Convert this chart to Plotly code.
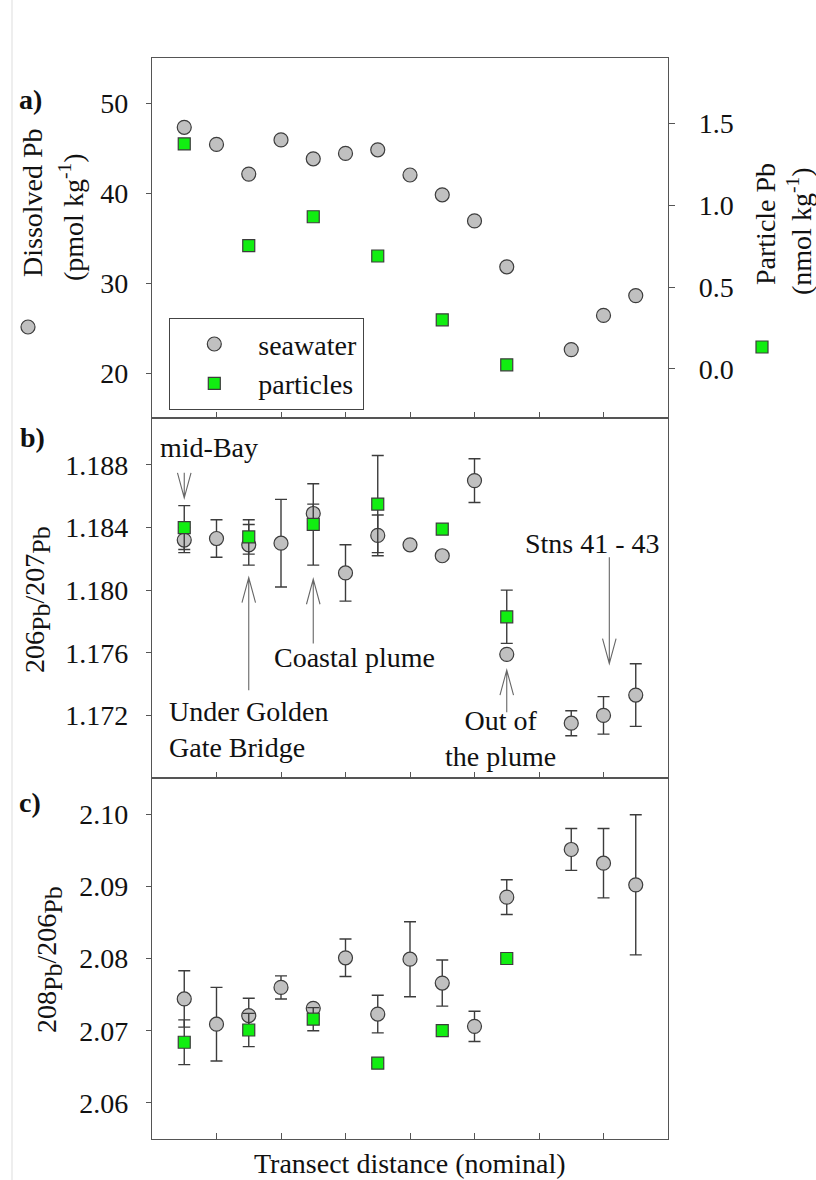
import math
import plotly.graph_objects as go

# ---- station positions (nominal transect index) ----
x_sw = [1, 2, 3, 4, 5, 6, 7, 8, 9, 10, 11, 13, 14, 15]
x_pt = [1, 3, 5, 7, 9, 11]
x_ticks = [2, 4, 6, 8, 10, 12, 14]

# ---- a) lead concentrations ----
dissolved_pb = [47.3, 45.4, 42.1, 45.9, 43.8, 44.4, 44.8, 42.0, 39.8, 36.9, 31.8, 22.6, 26.4, 28.6]
particle_pb = [1.375, 0.753, 0.93, 0.69, 0.30, 0.025]

# ---- b) 206Pb/207Pb ----
nan = float("nan")
r67_sw = [1.1832, 1.1833, 1.1829, 1.1830, 1.1849, 1.1811, 1.1835, 1.1829, 1.1822, 1.1870, 1.1759, 1.1715, 1.1720, 1.1733]
r67_sw_err = [0.0008, 0.0012, 0.0013, 0.0028, 0.0006, 0.0018, 0.0013, nan, nan, 0.0014, nan, 0.0008, 0.0012, 0.0020]
r67_pt = [1.1840, 1.1834, 1.1842, 1.1855, 1.1839, 1.1783]
r67_pt_err = [0.0014, 0.0011, 0.0026, 0.0031, nan, 0.0017]

# ---- c) 208Pb/206Pb ----
r86_sw = [2.0744, 2.0709, 2.0721, 2.0760, 2.0731, 2.0801, 2.0723, 2.0799, 2.0766, 2.0706, 2.0885, 2.0951, 2.0932, 2.0902]
r86_sw_err = [0.0039, 0.0051, 0.0024, 0.0016, nan, 0.0026, 0.0026, 0.0052, 0.0032, 0.0021, 0.0024, 0.0029, 0.0048, 0.0097]
r86_pt = [2.0684, 2.0701, 2.0716, 2.0655, 2.0700, 2.0800]
r86_pt_err = [0.0031, 0.0023, 0.0016, nan, nan, nan]

# ---- axis ticks ----
ticks_a_left = [20, 30, 40, 50]
ticks_a_right = [0.0, 0.5, 1.0, 1.5]
ticks_b = [1.172, 1.176, 1.180, 1.184, 1.188]
ticks_c = [2.06, 2.07, 2.08, 2.09, 2.10]

FONT = "Liberation Serif, Times New Roman, serif"
FS = 28
AX = "#555555"
INK = "#3c3c3c"
GREY = "#c0c0c0"
GREEN = "#11ee11"

W, H = 816, 1180
ML, MR, MT, MB = 152, 148, 58, 41
PW, PH = W - ML - MR, H - MT - MB


def px(x):
    return (x - ML) / PW


def py(y):
    return (H - MB - y) / PH


dom_a = [py(418), 1.0]
dom_b = [py(778), py(418)]
dom_c = [0.0, py(778)]

circle = dict(symbol="circle", size=14, color=GREY, line=dict(color=INK, width=1.2))
square = dict(symbol="square", size=12, color=GREEN, line=dict(color=INK, width=1.2))


def err(vals):
    return dict(type="data", array=vals, visible=True, color=INK, thickness=1.4, width=6)


fig = go.Figure()

# panel a
fig.add_trace(go.Scatter(x=x_sw, y=dissolved_pb, mode="markers", marker=circle,
                         name="seawater", xaxis="x", yaxis="y"))
fig.add_trace(go.Scatter(x=x_pt, y=particle_pb, mode="markers", marker=square,
                         name="particles", xaxis="x", yaxis="y2"))
# panel b
fig.add_trace(go.Scatter(x=x_sw, y=r67_sw, mode="markers", marker=circle, error_y=err(r67_sw_err),
                         showlegend=False, xaxis="x2", yaxis="y3"))
fig.add_trace(go.Scatter(x=x_pt, y=r67_pt, mode="markers", marker=square, error_y=err(r67_pt_err),
                         showlegend=False, xaxis="x2", yaxis="y3"))
# panel c
fig.add_trace(go.Scatter(x=x_sw, y=r86_sw, mode="markers", marker=circle, error_y=err(r86_sw_err),
                         showlegend=False, xaxis="x3", yaxis="y4"))
fig.add_trace(go.Scatter(x=x_pt, y=r86_pt, mode="markers", marker=square, error_y=err(r86_pt_err),
                         showlegend=False, xaxis="x3", yaxis="y4"))

xcommon = dict(range=[0, 16], tickvals=x_ticks, showticklabels=False, ticks="inside", ticklen=6,
               tickwidth=1.3, tickcolor=AX, showline=True, linecolor=AX, linewidth=1.4,
               mirror=True, showgrid=False, zeroline=False)
ycommon = dict(ticks="outside", ticklen=5, tickwidth=1.3, tickcolor=AX, showline=True,
               linecolor=AX, linewidth=1.4, showgrid=False, zeroline=False,
               tickfont=dict(family=FONT, size=FS, color="#111"), ticklabelstandoff=12)

fig.update_layout(
    width=W, height=H,
    margin=dict(l=ML, r=MR, t=MT, b=MB),
    paper_bgcolor="white", plot_bgcolor="white",
    font=dict(family=FONT, size=FS, color="#111"),
    xaxis=dict(domain=[0, 1], anchor="y", **xcommon),
    xaxis2=dict(domain=[0, 1], anchor="y3", matches="x", **xcommon),
    xaxis3=dict(domain=[0, 1], anchor="y4", matches="x", **xcommon),
    yaxis=dict(domain=dom_a, anchor="x", range=[15, 55], tickvals=ticks_a_left,
               ticktext=[str(v) for v in ticks_a_left], mirror=True, **ycommon),
    yaxis2=dict(overlaying="y", side="right", anchor="x", range=[-0.3, 1.9],
                tickvals=ticks_a_right, ticktext=[f"{v:.1f}" for v in ticks_a_right],
                **{**ycommon, "ticklen": 6, "ticklabelstandoff": 18}),
    yaxis3=dict(domain=dom_b, anchor="x2", range=[1.168, 1.191], tickvals=ticks_b,
                ticktext=[f"{v:.3f}" for v in ticks_b], mirror=True, **ycommon),
    yaxis4=dict(domain=dom_c, anchor="x3", range=[2.055, 2.105], tickvals=ticks_c,
                ticktext=[f"{v:.2f}" for v in ticks_c], mirror=True, **ycommon),
    legend=dict(x=px(169), y=py(318), xanchor="left", yanchor="top",
                bgcolor="white", bordercolor="#444", borderwidth=1.3,
                font=dict(family=FONT, size=FS, color="#111"), itemwidth=78,
                tracegroupgap=0),
)

ann = []


def paper_text(x, y, text, angle=0, size=FS, bold=False, xanchor="center"):
    t = f"<b>{text}</b>" if bold else text
    ann.append(dict(x=px(x), y=py(y), xref="paper", yref="paper", text=t, showarrow=False,
                    textangle=angle, xanchor=xanchor, yanchor="middle",
                    font=dict(family=FONT, size=size, color="#111")))


# panel letters
paper_text(30, 100, "a)", bold=True)
paper_text(32, 437, "b)", bold=True)
paper_text(30, 803, "c)", bold=True)

# axis titles
PB = "<sub><span style='font-size:26px'>Pb</span></sub>"
paper_text(32, 203, "Dissolved Pb", angle=-90)
paper_text(72, 217, "(pmol kg<sup>-1</sup>)", angle=-90)
paper_text(766, 224, "Particle Pb", angle=-90)
paper_text(799, 231, "(nmol kg<sup>-1</sup>)", angle=-90)
paper_text(37, 600, f"206{PB}/207{PB}", angle=-90)
paper_text(49, 960, f"208{PB}/206{PB}", angle=-90)
paper_text(410, 1163, "Transect distance (nominal)")


def btext(x, y, text, xanchor="left", align="left"):
    ann.append(dict(x=x, y=y, xref="x2", yref="y3", text=text, showarrow=False,
                    xanchor=xanchor, yanchor="middle", align=align,
                    font=dict(family=FONT, size=FS, color="#111")))


btext(0.18, 1.1891, "mid-Bay")
btext(0.48, 1.1711, "Under Golden<br>Gate Bridge")
btext(3.72, 1.1757, "Coastal plume")
btext(10.8, 1.1705, "Out of<br>the plume", xanchor="center", align="center")
btext(13.65, 1.1830, "Stns 41 - 43", xanchor="center")

fig.update_layout(annotations=ann)

shapes = []


def arrow(x, y0, y1):
    """Thin arrow from y0 to tip y1 in panel b coordinates, with an open V head."""
    hw, hl = 0.21, 0.0016
    d = hl if y0 > y1 else -hl
    path = (f"M {x},{y0} L {x},{y1} M {x - hw},{y1 + d} L {x},{y1} L {x + hw},{y1 + d}")
    shapes.append(dict(type="path", path=path, xref="x2", yref="y3",
                       line=dict(color="#666", width=1.1)))


arrow(1, 1.1875, 1.1859)
arrow(3, 1.1736, 1.1808)
arrow(5, 1.1766, 1.1807)
arrow(11, 1.1722, 1.1749)
arrow(14.18, 1.1821, 1.1753)

# symbols beside the panel a axis titles
shapes.append(dict(type="circle", xref="paper", yref="paper",
                   x0=px(21), x1=px(35), y0=py(334), y1=py(320),
                   fillcolor=GREY, line=dict(color=INK, width=1.2)))
shapes.append(dict(type="rect", xref="paper", yref="paper",
                   x0=px(756), x1=px(768), y0=py(353), y1=py(341),
                   fillcolor=GREEN, line=dict(color=INK, width=1.2)))
# page edge
shapes.append(dict(type="line", xref="paper", yref="paper",
                   x0=px(12), x1=px(12), y0=py(H), y1=py(0),
                   line=dict(color="#dddddd", width=1)))

fig.update_layout(shapes=shapes)

fig.write_html("out.html")
